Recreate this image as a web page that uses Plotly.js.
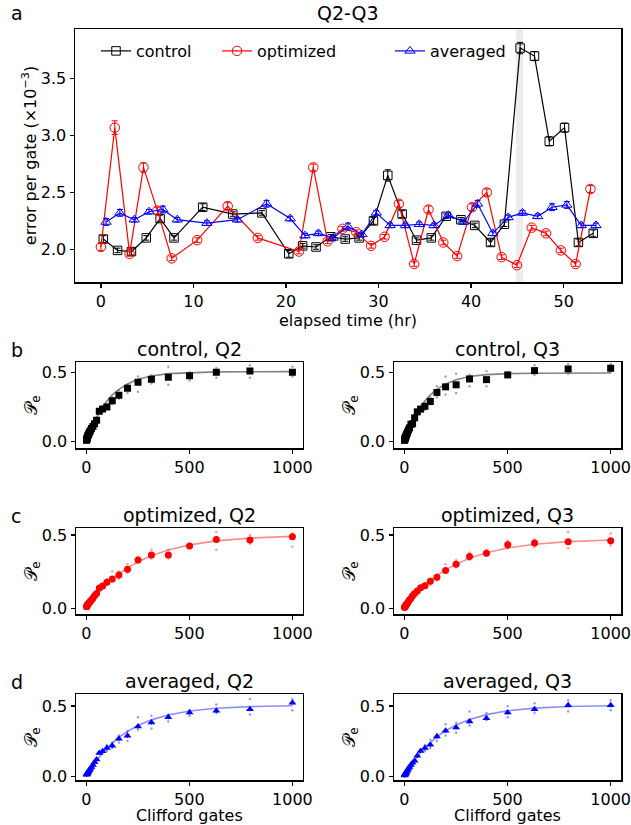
<!DOCTYPE html>
<html>
<head>
<meta charset="utf-8">
<script src="https://cdn.plot.ly/plotly-3.0.1.min.js"></script>
<style>html,body{margin:0;padding:0;background:#fff;} #chart{width:631px;height:825px;}</style>
</head>
<body>
<div id="chart"></div>
<script>
// ---------- panel a: error per gate vs elapsed time ----------
const timeCtrl = [0.26,1.8,3.3,4.9,6.4,7.9,11.0,14.25,17.4,20.3,21.8,23.25,24.85,26.4,27.9,29.45,31.0,32.55,34.1,35.7,37.3,38.9,40.4,42.1,43.6,45.3,46.85,48.45,50.1,51.6,53.2];
const epgCtrl  = [2.09,1.99,1.98,2.10,2.27,2.10,2.37,2.31,2.32,1.96,2.03,2.02,2.11,2.09,2.10,2.25,2.65,2.31,2.08,2.10,2.29,2.26,2.21,2.06,2.22,3.77,3.70,2.95,3.07,2.06,2.14];
const sdCtrl   = [0.03,0.02,0.03,0.02,0.03,0.02,0.03,0.02,0.02,0.03,0.02,0.02,0.02,0.02,0.02,0.03,0.05,0.03,0.02,0.02,0.02,0.02,0.02,0.03,0.02,0.05,0.04,0.04,0.04,0.03,0.03];

const timeOpt = [0.0,1.5,3.1,4.6,6.1,7.65,10.4,13.7,16.95,21.4,22.95,24.5,26.1,27.6,29.2,30.65,32.2,33.85,35.4,37.0,38.5,40.1,41.7,43.3,44.95,46.55,48.1,49.7,51.3,52.9];
const epgOpt  = [2.02,3.07,1.96,2.72,2.34,1.92,2.08,2.38,2.10,1.98,2.72,2.07,2.18,2.15,2.03,2.11,2.40,1.87,2.35,2.06,1.94,2.37,2.50,1.93,1.86,2.19,2.14,1.99,1.87,2.53];
const sdOpt   = [0.03,0.06,0.02,0.04,0.03,0.02,0.02,0.03,0.02,0.02,0.03,0.02,0.02,0.02,0.02,0.02,0.03,0.02,0.03,0.02,0.02,0.03,0.03,0.02,0.02,0.02,0.02,0.02,0.02,0.03];

const timeAvg = [0.55,2.05,3.6,5.2,6.7,8.25,11.45,14.75,17.9,20.45,22.05,23.5,25.1,26.7,28.2,29.75,31.25,32.9,34.4,36.0,37.55,39.2,40.7,42.35,44.0,45.55,47.2,48.75,50.35,51.9,53.5];
const epgAvg  = [2.24,2.32,2.26,2.33,2.35,2.26,2.23,2.26,2.40,2.27,2.12,2.14,2.10,2.20,2.13,2.32,2.21,2.21,2.22,2.21,2.30,2.24,2.40,2.14,2.28,2.32,2.29,2.37,2.39,2.21,2.21];
const sdAvg   = [0.03,0.03,0.02,0.02,0.03,0.02,0.02,0.02,0.03,0.02,0.02,0.02,0.02,0.03,0.02,0.02,0.02,0.02,0.02,0.02,0.02,0.02,0.03,0.02,0.02,0.02,0.02,0.03,0.03,0.02,0.02];

const spanStart = 44.85, spanEnd = 45.6;  // highlighted interval (hr)

// ---------- panels b-d: RB decay vs Clifford gates ----------
const cliffords = [1,2,3,4,5,6,8,10,13,16,20,25,32,40,50,63,79,100,126,158,200,251,316,398,501,631,794,1000];
const cliffordsSamples = [100,126,158,200,251,316,398,501,631,794,1000];

const ctrlQ2 = [0.01,0.015,0.02,0.025,0.03,0.035,0.045,0.05,0.06,0.07,0.08,0.095,0.11,0.13,0.155,0.22,0.235,0.25,0.295,0.335,0.385,0.428,0.45,0.465,0.475,0.50,0.51,0.50];
const ctrlQ2Fit = [0.0044,0.0087,0.013,0.0173,0.0215,0.0257,0.034,0.042,0.054,0.0656,0.0804,0.0989,0.122,0.149,0.178,0.214,0.251,0.294,0.337,0.377,0.416,0.450,0.473,0.490,0.498,0.503,0.504,0.505];
const ctrlQ2Hi = [0.27,0.32,0.37,0.41,0.47,0.48,0.54,0.50,0.53,0.55,0.54];
const ctrlQ2Lo = [0.24,0.27,0.31,0.35,0.36,0.42,0.41,0.44,0.46,0.46,0.47];

const ctrlQ3 = [0.01,0.015,0.02,0.025,0.03,0.035,0.04,0.05,0.06,0.07,0.085,0.10,0.125,0.13,0.172,0.215,0.235,0.255,0.29,0.355,0.395,0.41,0.452,0.447,0.481,0.512,0.524,0.529];
const ctrlQ3Fit = [0.0045,0.009,0.0133,0.0177,0.022,0.0264,0.0348,0.0433,0.0555,0.0675,0.0826,0.1006,0.1245,0.1513,0.1805,0.2165,0.2534,0.2955,0.3375,0.3771,0.4150,0.4464,0.4691,0.4833,0.4903,0.4934,0.4946,0.4949];
const ctrlQ3Hi = [0.28,0.32,0.40,0.47,0.49,0.48,0.51,0.50,0.55,0.56,0.56];
const ctrlQ3Lo = [0.23,0.27,0.32,0.34,0.35,0.40,0.40,0.47,0.48,0.49,0.50];

const optQ2 = [0.01,0.012,0.015,0.018,0.02,0.022,0.026,0.03,0.035,0.04,0.048,0.055,0.068,0.085,0.10,0.137,0.152,0.177,0.20,0.227,0.266,0.33,0.364,0.364,0.425,0.47,0.466,0.488];
const optQ2Fit = [0.002,0.004,0.006,0.008,0.0099,0.0119,0.0158,0.0196,0.0253,0.031,0.0384,0.0476,0.060,0.0739,0.0906,0.1114,0.1355,0.1648,0.1979,0.2343,0.2753,0.3169,0.3587,0.3982,0.4326,0.4599,0.4791,0.4908];
const optQ2Hi = [0.20,0.25,0.25,0.30,0.35,0.40,0.40,0.44,0.52,0.50,0.51];
const optQ2Lo = [0.16,0.18,0.20,0.24,0.31,0.34,0.34,0.41,0.40,0.44,0.42];

const optQ3 = [0.005,0.008,0.01,0.012,0.014,0.016,0.02,0.025,0.03,0.036,0.045,0.055,0.068,0.085,0.10,0.118,0.14,0.154,0.184,0.212,0.258,0.30,0.353,0.376,0.433,0.445,0.454,0.461];
const optQ3Fit = [0.0019,0.0038,0.0057,0.0076,0.0094,0.0113,0.015,0.0186,0.024,0.0295,0.0365,0.0452,0.057,0.0702,0.0861,0.1058,0.1287,0.1566,0.188,0.2226,0.2615,0.3011,0.3408,0.3783,0.411,0.4369,0.4551,0.4663];
const optQ3Hi = [0.17,0.20,0.23,0.30,0.33,0.38,0.40,0.46,0.47,0.52,0.51];
const optQ3Lo = [0.14,0.16,0.19,0.24,0.28,0.33,0.36,0.41,0.42,0.41,0.43];

const avgQ2 = [0.01,0.012,0.015,0.018,0.02,0.023,0.028,0.033,0.04,0.045,0.055,0.065,0.08,0.10,0.118,0.165,0.177,0.20,0.217,0.267,0.288,0.354,0.382,0.42,0.453,0.465,0.477,0.523];
const avgQ2Fit = [0.0025,0.005,0.0075,0.010,0.0125,0.0149,0.0198,0.0246,0.0318,0.0388,0.0481,0.0593,0.0747,0.0916,0.1117,0.1365,0.1648,0.1987,0.236,0.2758,0.3192,0.361,0.401,0.436,0.4637,0.4835,0.4955,0.5016];
const avgQ2Hi = [0.22,0.24,0.29,0.32,0.42,0.43,0.44,0.47,0.51,0.55,0.55];
const avgQ2Lo = [0.18,0.20,0.24,0.25,0.33,0.34,0.39,0.43,0.45,0.44,0.47];

const avgQ3 = [0.005,0.008,0.012,0.015,0.018,0.02,0.025,0.03,0.038,0.045,0.055,0.065,0.08,0.095,0.11,0.146,0.18,0.20,0.223,0.282,0.324,0.347,0.39,0.413,0.453,0.477,0.505,0.505];
const avgQ3Fit = [0.0026,0.0052,0.0078,0.0104,0.013,0.0155,0.0205,0.0256,0.033,0.0403,0.0499,0.0615,0.0774,0.0947,0.1154,0.1407,0.1693,0.2036,0.2411,0.2809,0.3238,0.3651,0.4041,0.4381,0.4652,0.4843,0.4958,0.5017];
const avgQ3Hi = [0.22,0.26,0.30,0.37,0.38,0.46,0.45,0.50,0.52,0.54,0.54];
const avgQ3Lo = [0.18,0.20,0.25,0.29,0.31,0.36,0.40,0.42,0.45,0.46,0.47];

const meanErr = 0.015;

// ---------- build ----------
const W = 631, H = 825;
const px = x => x / W;
const py = y => 1 - y / H;

const FONT = 'DejaVu Sans, sans-serif';
const traces = [];

function topTrace(name, t, v, sd, color, symbol, size, legendId) {
  return {
    type: 'scatter', mode: 'lines+markers', name: name, x: t, y: v,
    xaxis: 'x', yaxis: 'y', legend: legendId,
    line: {color: color, width: 1.2},
    marker: {symbol: symbol, size: size, color: color, line: {color: color, width: 1}},
    error_y: {type: 'data', array: sd, visible: true, color: color, thickness: 1, width: 3}
  };
}
traces.push(topTrace('control', timeCtrl, epgCtrl, sdCtrl, 'black', 'square-open', 8.5, 'legend'));
traces.push(topTrace('optimized', timeOpt, epgOpt, sdOpt, 'red', 'circle-open', 9.5, 'legend2'));
traces.push(topTrace('averaged', timeAvg, epgAvg, sdAvg, 'blue', 'triangle-up-open', 9, 'legend3'));

function rbPanel(ax, mean, fit, hi, lo, color, fitColor, dotColor, symbol) {
  const xa = 'x' + ax, ya = 'y' + ax;
  traces.push({type:'scatter', mode:'markers', x: cliffordsSamples, y: hi, xaxis: xa, yaxis: ya, showlegend:false,
    marker:{size:2.5, color: dotColor}, hoverinfo:'skip'});
  traces.push({type:'scatter', mode:'markers', x: cliffordsSamples, y: lo, xaxis: xa, yaxis: ya, showlegend:false,
    marker:{size:2.5, color: dotColor}, hoverinfo:'skip'});
  traces.push({type:'scatter', mode:'lines', x: cliffords, y: fit, xaxis: xa, yaxis: ya, showlegend:false,
    line:{color: fitColor, width: 1.6}});
  traces.push({type:'scatter', mode:'markers', x: cliffords, y: mean, xaxis: xa, yaxis: ya, showlegend:false,
    marker:{symbol: symbol, size: 7, color: color},
    error_y:{type:'constant', value: meanErr, color: color, thickness: 1, width: 0}});
}
rbPanel(2, ctrlQ2, ctrlQ2Fit, ctrlQ2Hi, ctrlQ2Lo, 'black', 'rgba(90,90,90,0.75)', 'rgba(0,0,0,0.35)', 'square');
rbPanel(3, ctrlQ3, ctrlQ3Fit, ctrlQ3Hi, ctrlQ3Lo, 'black', 'rgba(90,90,90,0.75)', 'rgba(0,0,0,0.35)', 'square');
rbPanel(4, optQ2, optQ2Fit, optQ2Hi, optQ2Lo, 'red', 'rgba(255,0,0,0.45)', 'rgba(255,0,0,0.4)', 'circle');
rbPanel(5, optQ3, optQ3Fit, optQ3Hi, optQ3Lo, 'red', 'rgba(255,0,0,0.45)', 'rgba(255,0,0,0.4)', 'circle');
rbPanel(6, avgQ2, avgQ2Fit, avgQ2Hi, avgQ2Lo, 'blue', 'rgba(0,0,255,0.45)', 'rgba(0,0,255,0.4)', 'triangle-up');
rbPanel(7, avgQ3, avgQ3Fit, avgQ3Hi, avgQ3Lo, 'blue', 'rgba(0,0,255,0.45)', 'rgba(0,0,255,0.4)', 'triangle-up');

const axBase = {showline:true, mirror:true, linecolor:'black', linewidth:1.5, ticks:'outside', ticklen:4, tickwidth:1.2,
  tickcolor:'black', showgrid:false, zeroline:false, automargin:false, ticklabeloverflow:'allow',
  tickfont:{size:16, color:'black', family:FONT}};

const layout = {
  width: W, height: H, margin:{l:0, r:0, t:0, b:0}, paper_bgcolor:'white', plot_bgcolor:'white',
  font:{family: FONT, color:'black', size:16},
  xaxis: Object.assign({}, axBase, {domain:[px(75), px(621)], range:[-2.8, 56.2], anchor:'y',
    tickvals:[0,10,20,30,40,50], title:{text:'elapsed time (hr)', font:{size:16}, standoff:0}}),
  yaxis: Object.assign({}, axBase, {domain:[py(282), py(29)], range:[1.712, 3.938], anchor:'x',
    tickvals:[2.0,2.5,3.0,3.5], tickformat:'.1f', title:{text:'error per gate (×10<sup>−3</sup>)', font:{size:16}, standoff:0}}),
  shapes: [{type:'rect', xref:'x', yref:'y domain', x0: spanStart, x1: spanEnd, y0:0, y1:1,
    fillcolor:'#ececec', line:{width:0}, layer:'below'}],
  legend: {x: px(96), y: py(34), xanchor:'left', yanchor:'top', orientation:'h', bgcolor:'rgba(0,0,0,0)', font:{size:16}},
  legend2: {x: px(217), y: py(34), xanchor:'left', yanchor:'top', orientation:'h', bgcolor:'rgba(0,0,0,0)', font:{size:16}},
  legend3: {x: px(390), y: py(34), xanchor:'left', yanchor:'top', orientation:'h', bgcolor:'rgba(0,0,0,0)', font:{size:16}},
  annotations: []
};

const colX = [[76, 302.7], [394, 621]];
const rowY = [[362, 448], [528, 614], [694, 780]];
const yRanges = [[-0.045, 0.574], [-0.04, 0.548], [-0.027, 0.585]];
const titles = [['control, Q2','control, Q3'], ['optimized, Q2','optimized, Q3'], ['averaged, Q2','averaged, Q3']];
const letters = ['b','c','d'];
let k = 2;
for (let r = 0; r < 3; r++) {
  for (let c = 0; c < 2; c++) {
    const xa = 'xaxis' + k, ya = 'yaxis' + k;
    layout[xa] = Object.assign({}, axBase, {domain:[px(colX[c][0]), px(colX[c][1])], range:[-50, 1050], anchor:'y'+k,
      tickvals:[0,500,1000]});
    if (r === 2) layout[xa].title = {text:'Clifford gates', font:{size:16}, standoff:6};
    layout[ya] = Object.assign({}, axBase, {domain:[py(rowY[r][1]), py(rowY[r][0])], range: yRanges[r], anchor:'x'+k,
      tickvals:[0,0.5], tickformat:'.1f', title:{text:'𝒫<sub>e</sub>', font:{size:17}, standoff:0}});
    layout.annotations.push({xref:'paper', yref:'paper', x: px((colX[c][0]+colX[c][1])/2), y: py(rowY[r][0]-13),
      text: titles[r][c], showarrow:false, xanchor:'center', yanchor:'middle', font:{size:19}});
    k++;
  }
  layout.annotations.push({xref:'paper', yref:'paper', x: px(9), y: py(rowY[r][0]-12), text: letters[r],
    showarrow:false, xanchor:'left', yanchor:'middle', font:{size:19}});
}
layout.annotations.push({xref:'paper', yref:'paper', x: px(348), y: py(13), text:'Q2-Q3', showarrow:false,
  xanchor:'center', yanchor:'middle', font:{size:19}});
layout.annotations.push({xref:'paper', yref:'paper', x: px(9), y: py(13), text:'a', showarrow:false,
  xanchor:'left', yanchor:'middle', font:{size:19}});

Plotly.newPlot('chart', traces, layout, {staticPlot:true, displayModeBar:false});
</script>
</body>
</html>
